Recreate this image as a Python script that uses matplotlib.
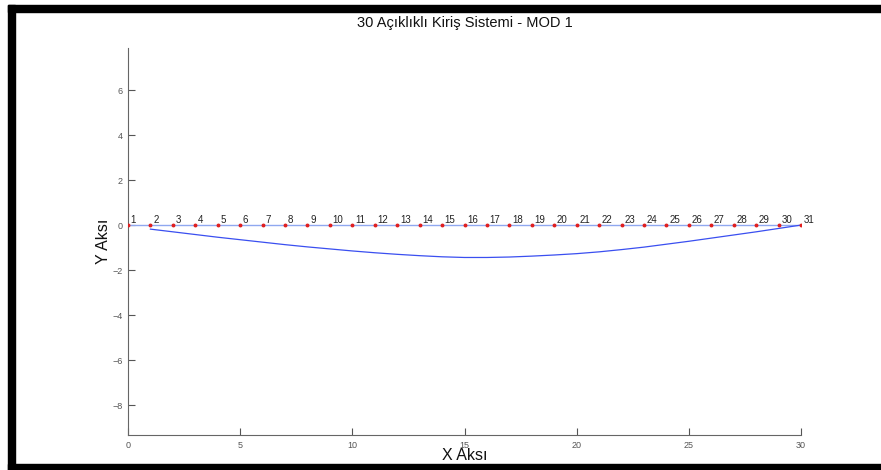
import numpy as np
import matplotlib.pyplot as plt
from matplotlib.patches import Rectangle

# node coordinates (nodes 1..31 on x = 0..30)
node_x = list(range(0, 31))
node_labels = [str(i) for i in range(1, 32)]

# mode 1 shape (nodes 2..31)
mode_x = list(range(1, 31))
mode_y = [-0.18, -0.30, -0.42, -0.54, -0.65, -0.76, -0.87, -0.97, -1.06, -1.15,
          -1.23, -1.30, -1.36, -1.41, -1.44, -1.44, -1.42, -1.38, -1.33, -1.27,
          -1.19, -1.09, -0.98, -0.85, -0.72, -0.58, -0.44, -0.30, -0.15, 0.0]

x_ticks = [0, 5, 10, 15, 20, 25, 30]
y_ticks = [-8, -6, -4, -2, 0, 2, 4, 6]

plt.rcParams['font.family'] = ['Liberation Sans', 'DejaVu Sans']

W, H = 881, 470
fig = plt.figure(figsize=(W / 100, H / 100), dpi=100)
ax = fig.add_axes([128 / W, 1 - 435 / H, 673 / W, 387 / H])

# undeformed beam
ax.plot(node_x, [0] * len(node_x), color='#8fa8f0', linewidth=1.0, zorder=2)
ax.plot(node_x, [0] * len(node_x), 'o', color='#e02020', markersize=1.8, zorder=3)
for x, lab in zip(node_x, node_labels):
    ax.text(x + 0.12, 0.02, lab, fontsize=7, color='#222222', ha='left', va='bottom')

# mode shape
ax.plot(mode_x, mode_y, color='#3a4ff0', linewidth=0.9, zorder=2)

ax.set_xlim(0, 30)
ax.set_ylim(-9.33, 7.87)
ax.set_xticks(x_ticks)
ax.set_yticks(y_ticks)
ax.tick_params(direction='in', length=5, width=0.8, colors='#555555', labelsize=6.5, pad=4)
for s in ['top', 'right']:
    ax.spines[s].set_visible(False)
for s in ['left', 'bottom']:
    ax.spines[s].set_color('#666666')
    ax.spines[s].set_linewidth(0.8)

ax.set_title('30 Açıklıklı Kiriş Sistemi - MOD 1', fontsize=10.5, color='#111111', pad=15)
ax.set_xlabel('X Aksı', fontsize=11.5, color='#111111', labelpad=-1)
ax.set_ylabel('Y Aksı', fontsize=11.5, color='#111111', labelpad=1)

# black frame around the screenshot (pixel rows/cols from the top-left)
def frame_box(x0, y0, x1, y1):
    fig.patches.append(Rectangle((x0 / W, 1 - y1 / H), (x1 - x0) / W, (y1 - y0) / H,
                                 transform=fig.transFigure, color='black', zorder=10))

frame_box(8, 5, W, 12)
frame_box(8, 5, 15, H)
frame_box(8, 464, W, H)

fig.savefig('out.png', dpi=100)
